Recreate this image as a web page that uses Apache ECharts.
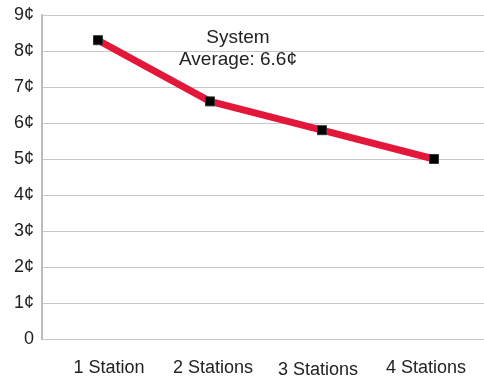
<!DOCTYPE html>
<html>
<head>
<meta charset="utf-8">
<style>
  html, body { margin: 0; padding: 0; background: #fff; }
  #chart { width: 484px; height: 379px; }
</style>
<script src="https://cdn.jsdelivr.net/npm/echarts@6/dist/echarts.min.js"></script>
</head>
<body>
<div id="chart"></div>
<script>
// Cost per unit by number of stations
const categories = ['1 Station', '2 Stations', '3 Stations', '4 Stations'];
const costValues = [8.3, 6.6, 5.8, 5.0];
const yTicks = [0, 1, 2, 3, 4, 5, 6, 7, 8, 9];
const noteLines = ['System', 'Average: 6.6¢'];

// small nudges of the category labels (px; shift + = right, drop + = down)
const labelShift = [11, 3, -4, -8];
const labelDrop = [0, 0, 2, 0];

const chart = echarts.init(document.getElementById('chart'), null, { renderer: 'canvas' });
const font = 'Liberation Sans, Arial, Helvetica, sans-serif';

const categoryItems = categories.map((name, i) => ({
  value: name,
  textStyle: {
    padding: [labelDrop[i], Math.max(0, -labelShift[i]) * 2, 0, Math.max(0, labelShift[i]) * 2]
  }
}));

chart.setOption({
  animation: false,
  backgroundColor: '#ffffff',
  grid: { left: 42, top: 15, width: 448, height: 324, containLabel: false, outerBoundsMode: 'none' },
  xAxis: {
    type: 'category',
    data: categoryItems,
    boundaryGap: true,
    axisLine: { show: false },
    axisTick: { show: false },
    axisLabel: { color: '#222', fontFamily: font, fontSize: 18, margin: 20, interval: 0 },
    splitLine: { show: false }
  },
  yAxis: {
    type: 'value',
    min: yTicks[0],
    max: yTicks[yTicks.length - 1],
    interval: 1,
    axisLine: { show: true, lineStyle: { color: '#bdbdbd', width: 2 } },
    axisTick: { show: false },
    axisLabel: {
      color: '#222', fontFamily: font, fontSize: 18, margin: 8,
      formatter: v => (v === 0 ? '0' : v + '¢')
    },
    splitLine: { show: true, lineStyle: { color: '#c8c8c8', width: 1 } }
  },
  graphic: [{
    type: 'text',
    x: 238,
    y: 27,
    style: {
      text: noteLines.join('\n'),
      fill: '#222',
      font: '19px ' + font,
      textAlign: 'center',
      textVerticalAlign: 'top',
      lineHeight: 22
    }
  }],
  series: [{
    type: 'line',
    data: costValues,
    symbol: 'rect',
    symbolSize: 9,
    itemStyle: { color: '#000', borderColor: '#333', borderWidth: 1 },
    lineStyle: { color: '#e3173a', width: 7 },
    z: 3
  }]
});
</script>
</body>
</html>
